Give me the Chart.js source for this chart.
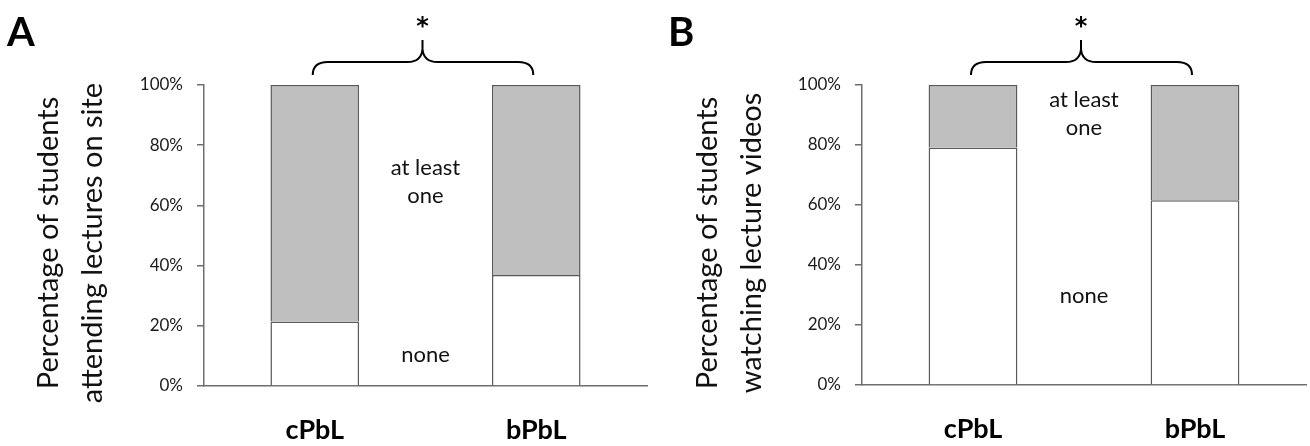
<!DOCTYPE html>
<html><head><meta charset="utf-8">
<script src="https://cdn.jsdelivr.net/npm/chart.js@4"></script>
<style>
html,body{margin:0;padding:0;background:#fff;width:1310px;height:446px;overflow:hidden}
canvas{position:absolute;top:0}
</style></head><body>
<canvas id="chartA" width="655" height="446" style="left:0px"></canvas>
<canvas id="chartB" width="655" height="446" style="left:655px"></canvas>
<script>
// ---- data ----
const categories = ['cPbL', 'bPbL'];
const seriesNames = ['none', 'at least one'];
const attendNone = [21.4, 36.9];
const attendAtLeastOne = [78.6, 63.1];
const videoNone = [79.2, 61.6];
const videoAtLeastOne = [20.8, 38.4];
const yTickValues = [0, 20, 40, 60, 80, 100];
const titleA = ['Percentage of students', 'attending lectures on site'];
const titleB = ['Percentage of students', 'watching lecture videos'];

const FONT = 'Lato, "Open Sans", sans-serif';
const EDGE = '#5a5a5a';

function panelPlugin(p) {
  return {
    id: 'panel' + p.letter,
    afterDraw(chart) {
      const ctx = chart.ctx, xs = chart.scales.x, ys = chart.scales.y;
      const x0 = xs.getPixelForValue(0), x1 = xs.getPixelForValue(1);
      const xm = (x0 + x1) / 2;
      ctx.save();
      ctx.fillStyle = '#000';
      // panel letter
      ctx.font = 'bold 40px ' + FONT;
      ctx.textAlign = 'left'; ctx.textBaseline = 'alphabetic';
      ctx.fillText(p.letter, p.letterX, 46);
      // y title (rotated)
      ctx.font = '29px ' + FONT;
      ctx.fillStyle = '#111';
      ctx.textAlign = 'center';
      for (let i = 0; i < p.title.length; i++) {
        ctx.save();
        ctx.translate(p.titleX[i], 243);
        ctx.rotate(-Math.PI / 2);
        ctx.fillText(p.title[i], 0, 0);
        ctx.restore();
      }
      // annotations
      ctx.font = '22px ' + FONT;
      ctx.textBaseline = 'middle';
      ctx.fillStyle = '#111';
      for (const a of p.notes) {
        ctx.fillText(a.text, xm, ys.getPixelForValue(a.v));
      }
      // star
      ctx.font = 'bold 24px "DejaVu Sans", sans-serif';
      ctx.fillStyle = '#000';
      ctx.textBaseline = 'middle';
      ctx.fillText('*', xm - 3, 28);
      // brace
      const xl = x0 - 2, xr = x1 - 3, xc = xm - 3;
      ctx.strokeStyle = '#000'; ctx.lineWidth = 2;
      ctx.beginPath();
      ctx.moveTo(xl, 75);
      ctx.quadraticCurveTo(xl, 62, xl + 15, 62);
      ctx.lineTo(xc - 15, 62);
      ctx.quadraticCurveTo(xc - 1, 62, xc, 49);
      ctx.lineTo(xc, 40);
      ctx.moveTo(xc, 49);
      ctx.quadraticCurveTo(xc + 1, 62, xc + 15, 62);
      ctx.lineTo(xr - 15, 62);
      ctx.quadraticCurveTo(xr, 62, xr, 75);
      ctx.stroke();
      ctx.restore();
    }
  };
}

function makeChart(id, noneVals, oneVals, p) {
  return new Chart(document.getElementById(id), {
    type: 'bar',
    data: {
      labels: categories,
      datasets: [
        { label: seriesNames[0], data: noneVals, backgroundColor: '#ffffff', borderColor: EDGE, borderWidth: 1.5 },
        { label: seriesNames[1], data: oneVals, backgroundColor: '#bfbfbf', borderColor: EDGE, borderWidth: 1.5 }
      ]
    },
    options: {
      responsive: false, animation: false,
      layout: { padding: { left: 0, right: p.padRight, top: 85, bottom: 0 } },
      plugins: { legend: { display: false }, tooltip: { enabled: false } },
      datasets: { bar: { categoryPercentage: 1, barPercentage: 0.40 } },
      scales: {
        x: {
          stacked: true,
          grid: { display: false },
          border: { display: true, color: '#6e6e6e', width: 1.5 },
          ticks: { color: '#000', font: { family: FONT, size: 27, weight: 'bold' }, padding: 20 },
          afterFit(s) { s.height = p.xHeight; }
        },
        y: {
          stacked: true, min: 0, max: 100,
          afterBuildTicks(s) { s.ticks = yTickValues.map(v => ({ value: v })); },
          grid: { drawOnChartArea: false, color: '#6e6e6e', tickLength: 7, lineWidth: 1.5 },
          border: { display: true, color: '#6e6e6e', width: 1.5 },
          ticks: { color: '#1a1a1a', font: { family: FONT, size: 17 }, padding: 14, callback: v => v + '%' },
          afterFit(s) { s.width = p.yWidth; }
        }
      }
    },
    plugins: [panelPlugin(p)]
  });
}

makeChart('chartA', attendNone, attendAtLeastOne, {
  letter: 'A', letterX: 7, title: titleA, titleX: [58, 102], padRight: 8, xHeight: 60, yWidth: 204,
  notes: [{ text: 'at least', v: 72.4 }, { text: 'one', v: 63.0 }, { text: 'none', v: 10.3 }]
});
makeChart('chartB', videoNone, videoAtLeastOne, {
  letter: 'B', letterX: 13, title: titleB, titleX: [62, 106], padRight: 4, xHeight: 61, yWidth: 207,
  notes: [{ text: 'at least', v: 95.0 }, { text: 'one', v: 85.7 }, { text: 'none', v: 29.7 }]
});
</script>
</body></html>
